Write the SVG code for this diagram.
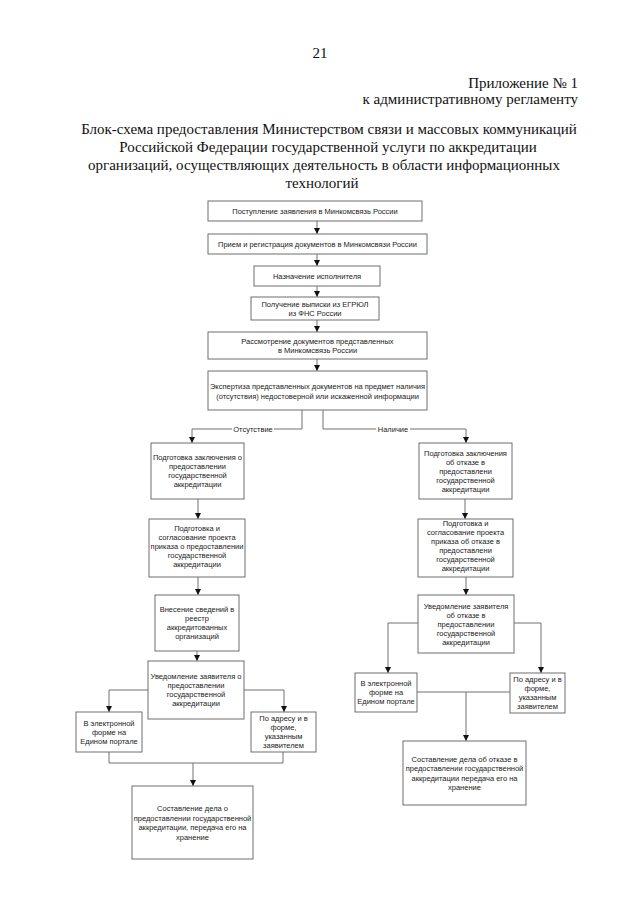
<svg xmlns="http://www.w3.org/2000/svg" width="640" height="905" viewBox="0 0 640 905">
<style>
.hd{font-family:"Liberation Serif",serif;font-size:15px;fill:#111}
.bx{fill:#fff;stroke:#6e6e6e;stroke-width:1}
.t{font-family:"Liberation Sans",Arial,sans-serif;font-size:7.5px;fill:#222;text-anchor:middle}
.ln{fill:none;stroke:#707070;stroke-width:1}
</style>
<defs>
<marker id="ah" markerUnits="userSpaceOnUse" markerWidth="6" markerHeight="6" refX="6" refY="3" orient="auto">
<path d="M0,0 L6,3 L0,6 z" fill="#111"/>
</marker>
</defs>
<rect width="640" height="905" fill="#fff"/>
<g id="header">
<text class="hd" x="320" y="58" text-anchor="middle">21</text>
<text class="hd" x="578" y="88" text-anchor="end">Приложение № 1</text>
<text class="hd" x="578" y="104" text-anchor="end">к административному регламенту</text>
<text class="hd" x="329" y="134" text-anchor="middle">Блок-схема предоставления Министерством связи и массовых коммуникаций</text>
<text class="hd" x="328" y="152" text-anchor="middle">Российской Федерации государственной услуги по аккредитации</text>
<text class="hd" x="324" y="170" text-anchor="middle">организаций, осуществляющих деятельность в области информационных</text>
<text class="hd" x="322" y="188" text-anchor="middle">технологий</text>
</g>
<g id="connectors">
<path class="ln" d="M317,221 V234" marker-end="url(#ah)"/>
<path class="ln" d="M317,254 V266" marker-end="url(#ah)"/>
<path class="ln" d="M317,286 V297" marker-end="url(#ah)"/>
<path class="ln" d="M317,320 V332" marker-end="url(#ah)"/>
<path class="ln" d="M317,359 V371" marker-end="url(#ah)"/>
<path class="ln" d="M302,410 V429 H192 V443" marker-end="url(#ah)"/>
<path class="ln" d="M323,410 V429 H466 V443" marker-end="url(#ah)"/>
<path class="ln" d="M198,499 V519" marker-end="url(#ah)"/>
<path class="ln" d="M198,577 V595" marker-end="url(#ah)"/>
<path class="ln" d="M197,651 V661" marker-end="url(#ah)"/>
<path class="ln" d="M148,690 H109 V712" marker-end="url(#ah)"/>
<path class="ln" d="M244,690 H284 V712" marker-end="url(#ah)"/>
<path class="ln" d="M109,752 V763 H283 V752"/>
<path class="ln" d="M193,763 V786" marker-end="url(#ah)"/>
<path class="ln" d="M465,499 V519" marker-end="url(#ah)"/>
<path class="ln" d="M466,577 V595" marker-end="url(#ah)"/>
<path class="ln" d="M418,623 H388 V673" marker-end="url(#ah)"/>
<path class="ln" d="M514,623 H541 V673" marker-end="url(#ah)"/>
<path class="ln" d="M417,692 H510"/>
<path class="ln" d="M466,692 V741" marker-end="url(#ah)"/>
<rect x="232" y="425" width="42" height="7" fill="#fff"/>
<text class="t" x="253" y="431.5">Отсутствие</text>
<rect x="376" y="425" width="34" height="7" fill="#fff"/>
<text class="t" x="393" y="431.5">Наличие</text>
</g>
<g id="n1"><rect class="bx" x="208" y="201" width="214" height="20"/><text class="t" x="315" y="213.7">Поступление заявления в Минкомсвязь России</text></g>
<g id="n2"><rect class="bx" x="208" y="234" width="219" height="20"/><text class="t" x="317.5" y="246.7">Прием и регистрация документов в Минкомсвязи России</text></g>
<g id="n3"><rect class="bx" x="254" y="266" width="126" height="20"/><text class="t" x="317" y="278.7">Назначение исполнителя</text></g>
<g id="n4"><rect class="bx" x="251" y="297" width="128" height="23"/><text class="t" x="315" y="306.7">Получение выписки из ЕГРЮЛ<tspan x="315" dy="9">из ФНС России</tspan></text></g>
<g id="n5"><rect class="bx" x="208" y="332" width="219" height="27"/><text class="t" x="317.5" y="343.7">Рассмотрение документов представленных<tspan x="317.5" dy="9">в Минкомсвязь России</tspan></text></g>
<g id="n6"><rect class="bx" x="208" y="371" width="219" height="39"/><text class="t" x="317.5" y="388.5">Экспертиза представленных документов на предмет наличия<tspan x="317.5" dy="10">(отсутствия) недостоверной или искаженной информации</tspan></text></g>
<g id="l1"><rect class="bx" x="151" y="443" width="93" height="56"/><text class="t" x="197.5" y="460.2">Подготовка заключения о<tspan x="197.5" dy="9">предоставлении</tspan><tspan x="197.5" dy="9">государственной</tspan><tspan x="197.5" dy="9">аккредитации</tspan></text></g>
<g id="l2"><rect class="bx" x="149" y="519" width="96" height="58"/><text class="t" x="197" y="530.7">Подготовка и<tspan x="197" dy="9">согласование проекта</tspan><tspan x="197" dy="9">приказа о предоставлении</tspan><tspan x="197" dy="9">государственной</tspan><tspan x="197" dy="9">аккредитации</tspan></text></g>
<g id="l3"><rect class="bx" x="155" y="595" width="84" height="56"/><text class="t" x="197" y="612.2">Внесение сведений в<tspan x="197" dy="9">реестр</tspan><tspan x="197" dy="9">аккредитованных</tspan><tspan x="197" dy="9">организаций</tspan></text></g>
<g id="l4"><rect class="bx" x="148" y="661" width="96" height="58"/><text class="t" x="196" y="679.2">Уведомление заявителя о<tspan x="196" dy="9">предоставлении</tspan><tspan x="196" dy="9">государственной</tspan><tspan x="196" dy="9">аккредитации</tspan></text></g>
<g id="l5"><rect class="bx" x="76" y="712" width="66" height="40"/><text class="t" x="109" y="725.7">В электронной<tspan x="109" dy="9">форме на</tspan><tspan x="109" dy="9">Едином портале</tspan></text></g>
<g id="l6"><rect class="bx" x="251" y="712" width="65" height="40"/><text class="t" x="283.5" y="721.2">По адресу и в<tspan x="283.5" dy="9">форме,</tspan><tspan x="283.5" dy="9">указанным</tspan><tspan x="283.5" dy="9">заявителем</tspan></text></g>
<g id="l7"><rect class="bx" x="132" y="786" width="121" height="73"/><text class="t" x="192.5" y="811">Составление дела о<tspan x="192.5" dy="9.5">предоставлении государственной</tspan><tspan x="192.5" dy="9.5">аккредитации, передача его на</tspan><tspan x="192.5" dy="9.5">хранение</tspan></text></g>
<g id="r1"><rect class="bx" x="419" y="443" width="93" height="56"/><text class="t" x="465.5" y="455.7">Подготовка заключения<tspan x="465.5" dy="9">об отказе в</tspan><tspan x="465.5" dy="9">предоставлени</tspan><tspan x="465.5" dy="9">государственной</tspan><tspan x="465.5" dy="9">аккредитации</tspan></text></g>
<g id="r2"><rect class="bx" x="418" y="519" width="95" height="58"/><text class="t" x="465.5" y="526.2">Подготовка и<tspan x="465.5" dy="9">согласование проекта</tspan><tspan x="465.5" dy="9">приказа об отказе в</tspan><tspan x="465.5" dy="9">предоставлени</tspan><tspan x="465.5" dy="9">государственной</tspan><tspan x="465.5" dy="9">аккредитации</tspan></text></g>
<g id="r3"><rect class="bx" x="418" y="595" width="96" height="58"/><text class="t" x="466" y="608.7">Уведомление заявителя<tspan x="466" dy="9">об отказе в</tspan><tspan x="466" dy="9">предоставлении</tspan><tspan x="466" dy="9">государственной</tspan><tspan x="466" dy="9">аккредитации</tspan></text></g>
<g id="r4"><rect class="bx" x="355" y="673" width="62" height="39"/><text class="t" x="386" y="686.2">В электронной<tspan x="386" dy="9">форме на</tspan><tspan x="386" dy="9">Едином портале</tspan></text></g>
<g id="r5"><rect class="bx" x="510" y="673" width="55" height="40"/><text class="t" x="537.5" y="682.2">По адресу и в<tspan x="537.5" dy="9">форме,</tspan><tspan x="537.5" dy="9">указанным</tspan><tspan x="537.5" dy="9">заявителем</tspan></text></g>
<g id="r6"><rect class="bx" x="403" y="741" width="123" height="64"/><text class="t" x="464.5" y="761.5">Составление дела об отказе в<tspan x="464.5" dy="9.5">предоставлении государственной</tspan><tspan x="464.5" dy="9.5">аккредитации  передача его на</tspan><tspan x="464.5" dy="9.5">хранение</tspan></text></g>
</svg>
